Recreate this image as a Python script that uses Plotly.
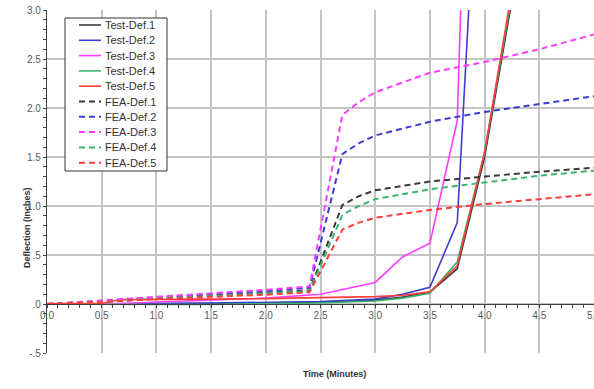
import plotly.graph_objects as go

# ---- data ----
t_test = [0, 0.5, 0.67, 1.0, 1.5, 2.0, 2.5, 3.0, 3.25, 3.5, 3.75, 4.0, 4.25]
test_def1 = [0, 0, 0.003, 0.005, 0.008, 0.01, 0.02, 0.04, 0.07, 0.12, 0.36, 1.50, 3.10]
test_def2 = [0, 0, 0.003, 0.005, 0.01, 0.015, 0.025, 0.05, 0.10, 0.17, 0.83, 6.0, 11.0]
test_def3 = [0, 0, 0.005, 0.02, 0.04, 0.06, 0.10, 0.22, 0.48, 0.62, 1.87, 11.0, 20.0]
test_def4 = [0, -0.005, -0.005, -0.005, -0.005, 0.0, 0.01, 0.03, 0.06, 0.11, 0.43, 1.55, 3.15]
test_def5 = [0.005, 0.005, 0.045, 0.05, 0.05, 0.055, 0.065, 0.075, 0.09, 0.125, 0.39, 1.55, 3.20]

t_fea = [0, 0.5, 1.0, 1.5, 2.0, 2.4, 2.7, 2.85, 3.0, 3.5, 4.0, 4.5, 5.0]
fea_def1 = [0, 0.025, 0.06, 0.09, 0.115, 0.14, 1.01, 1.10, 1.16, 1.25, 1.30, 1.35, 1.39]
fea_def2 = [0, 0.03, 0.07, 0.10, 0.135, 0.165, 1.53, 1.64, 1.72, 1.86, 1.96, 2.04, 2.12]
fea_def3 = [0, 0.035, 0.075, 0.11, 0.145, 0.18, 1.93, 2.06, 2.16, 2.36, 2.47, 2.60, 2.75]
fea_def4 = [0, 0.02, 0.055, 0.08, 0.105, 0.13, 0.91, 1.00, 1.07, 1.17, 1.24, 1.31, 1.36]
fea_def5 = [0, 0.02, 0.05, 0.07, 0.095, 0.12, 0.76, 0.83, 0.88, 0.96, 1.02, 1.07, 1.12]

x_ticks = [0, 0.5, 1.0, 1.5, 2.0, 2.5, 3.0, 3.5, 4.0, 4.5, 5.0]
x_ticktext = ["0.0", "0.5", "1.0", "1.5", "2.0", "2.5", "3.0", "3.5", "4.0", "4.5", "5.0"]
y_ticks = [3.0, 2.5, 2.0, 1.5, 1.0, 0.5, 0.0, -0.5]
y_ticktext = ["3.0", "2.5", "2.0", "1.5", "1.0", ".5", ".0", "-.5"]

series_names = ["Test-Def.1", "Test-Def.2", "Test-Def.3", "Test-Def.4", "Test-Def.5",
                "FEA-Def.1", "FEA-Def.2", "FEA-Def.3", "FEA-Def.4", "FEA-Def.5"]
colors = ["#3a3a3a", "#3c3cd2", "#ff3cff", "#3cb46e", "#ff3c3c"]
DASH = "6px,4px"

W, H = 594, 389
L, R, T, B = 47, 0, 10, 36
PW, PH = W - L - R, H - T - B

def px_x(p):
    return (p - L) / PW

def px_y(p):
    return (H - B - p) / PH

fig = go.Figure()
tests = [test_def1, test_def2, test_def3, test_def4, test_def5]
feas = [fea_def1, fea_def2, fea_def3, fea_def4, fea_def5]
for i, ys in enumerate(tests):
    fig.add_trace(go.Scatter(x=t_test, y=ys, mode="lines", name=series_names[i],
                             showlegend=False, line=dict(color=colors[i], width=1.6)))
for i, ys in enumerate(feas):
    fig.add_trace(go.Scatter(x=t_fea, y=ys, mode="lines", name=series_names[5 + i],
                             showlegend=False, line=dict(color=colors[i], width=2, dash=DASH)))

font_main = "Liberation Sans, Arial, sans-serif"
pos0 = 0.5 / 3.5

# ---- legend box (panel with line samples and text) ----
shapes = [dict(type="rect", xref="paper", yref="paper",
               x0=px_x(65), x1=px_x(167), y0=px_y(171), y1=px_y(18),
               line=dict(color="#333333", width=1), fillcolor="white", layer="above")]
annotations = []
for k, name in enumerate(series_names):
    yc = 25 + k * 15.3
    c = colors[k % 5]
    shapes.append(dict(type="line", xref="paper", yref="paper",
                       x0=px_x(79), x1=px_x(101), y0=px_y(yc), y1=px_y(yc),
                       line=dict(color=c, width=2 if k >= 5 else 1.6,
                                 dash=DASH if k >= 5 else "solid"),
                       layer="above"))
    annotations.append(dict(text=name, xref="paper", yref="paper", x=px_x(103), y=px_y(yc),
                            xanchor="left", yanchor="middle", showarrow=False,
                            font=dict(size=11, color="#333333", family=font_main)))

annotations += [
    dict(text="<b>Deflection (Inches)</b>", textangle=-90, xref="paper", yref="paper",
         x=px_x(20), y=px_y(228), showarrow=False, font=dict(size=9, color="#333333")),
    dict(text="<b>Time (Minutes)</b>", xref="paper", yref="paper",
         x=px_x(334), y=px_y(381), showarrow=False, font=dict(size=9, color="#333333")),
]

fig.update_layout(
    width=W, height=H,
    margin=dict(l=L, r=R, t=T, b=B),
    paper_bgcolor="white", plot_bgcolor="white",
    font=dict(family=font_main, size=10, color="#595959"),
    showlegend=False,
    xaxis=dict(range=[0, 5], tickvals=x_ticks, ticktext=x_ticktext,
               anchor="free", position=pos0, automargin=False, ticklabeloverflow="allow",
               showgrid=True, gridcolor="#c4c4c4", gridwidth=1.5,
               showline=True, linecolor="#404040", linewidth=1.2,
               ticks="outside", ticklen=2, tickcolor="#404040",
               minor=dict(dtick=0.1, ticks="outside", ticklen=3, tickcolor="#404040", showgrid=False),
               zeroline=False, tickfont=dict(size=10, color="#595959")),
    yaxis=dict(range=[-0.5, 3.0], tickvals=y_ticks, ticktext=y_ticktext, automargin=False,
               showgrid=True, gridcolor="#c4c4c4", gridwidth=1.5,
               showline=True, linecolor="#404040", linewidth=1.2,
               ticks="outside", ticklen=3, tickcolor="#404040",
               minor=dict(dtick=0.1, ticks="outside", ticklen=3, tickcolor="#404040", showgrid=False),
               zeroline=False, tickfont=dict(size=10, color="#595959")),
    shapes=shapes,
    annotations=annotations,
)

fig.write_html("out.html", config={"displayModeBar": False},
               post_script="document.body.style.margin='0px';document.body.style.overflow='hidden';")
